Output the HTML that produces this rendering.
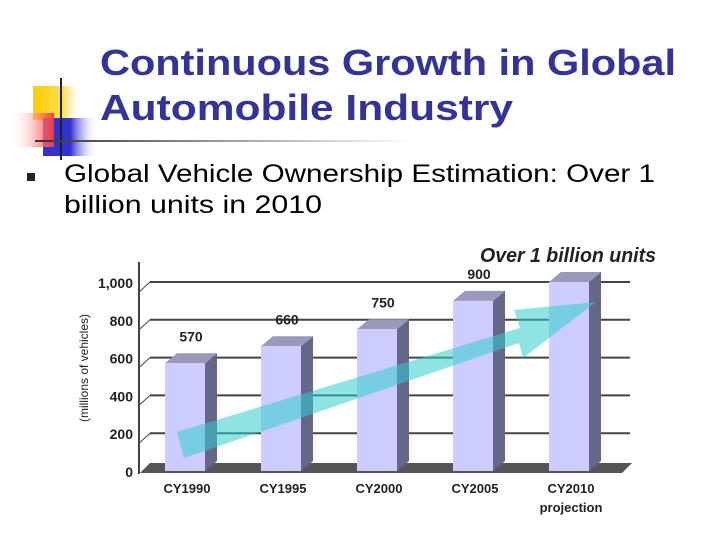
<!DOCTYPE html>
<html><head><meta charset="utf-8"><style>
html,body{margin:0;padding:0;background:#fff;}
svg{display:block;font-family:"Liberation Sans",sans-serif;}
</style></head><body>
<svg id="s" width="720" height="540" viewBox="0 0 720 540">
<defs>
<linearGradient id="gy" x1="0" x2="1"><stop offset="0" stop-color="#ffcc00"/><stop offset="0.6" stop-color="#ffdd55"/><stop offset="1" stop-color="#fff" stop-opacity="0"/></linearGradient>
<linearGradient id="gr" x1="1" x2="0"><stop offset="0" stop-color="#ff3333"/><stop offset="1" stop-color="#fff" stop-opacity="0"/></linearGradient>
<linearGradient id="gb" x1="0" x2="1"><stop offset="0" stop-color="#3333cc"/><stop offset="0.5" stop-color="#3333cc"/><stop offset="1" stop-color="#fff" stop-opacity="0"/></linearGradient>
<linearGradient id="gl" x1="0" x2="1"><stop offset="0" stop-color="#333"/><stop offset="0.4" stop-color="#888"/><stop offset="1" stop-color="#fff"/></linearGradient>
</defs>
<g>
<rect x="33" y="86" width="50" height="34" fill="url(#gy)"/>
<rect x="43" y="118" width="55" height="38" fill="url(#gb)"/>
<rect x="10" y="113" width="44" height="34" fill="url(#gr)"/>
<line x1="61" y1="78" x2="61" y2="160" stroke="#222" stroke-width="2"/>
<rect x="35" y="140" width="380" height="2" fill="url(#gl)"/>
</g>
<text x="100" y="75" font-size="36" font-weight="bold" fill="#333399" textLength="576" lengthAdjust="spacingAndGlyphs">Continuous Growth in Global</text>
<text x="100" y="120" font-size="36" font-weight="bold" fill="#333399" textLength="413" lengthAdjust="spacingAndGlyphs">Automobile Industry</text>
<rect x="27" y="173" width="8" height="8" fill="#222"/>
<text x="64" y="182" font-size="25" fill="#000" textLength="591" lengthAdjust="spacingAndGlyphs">Global Vehicle Ownership Estimation: Over 1</text>
<text x="64" y="213" font-size="25" fill="#000" textLength="258" lengthAdjust="spacingAndGlyphs">billion units in 2010</text>
<text x="656" y="262" font-size="20" font-weight="bold" font-style="italic" fill="#222" text-anchor="end" textLength="176" lengthAdjust="spacingAndGlyphs">Over 1 billion units</text>
<g id="chart"></g>
</svg>
<script>
const categories = ["CY1990","CY1995","CY2000","CY2005","CY2010"];
const values = [570, 660, 750, 900, 1000];
const valueLabels = ["570","660","750","900","1000"];
const yTicks = [0, 200, 400, 600, 800, 1000];
const yTickLabels = ["0","200","400","600","800","1,000"];
const NS="http://www.w3.org/2000/svg";
const g=document.getElementById('chart');
function y(v){return 471 - v*0.189;}
function x(i){return 165 + i*96;}
function mk(t,a,p){const e=document.createElementNS(NS,t);for(const k in a)e.setAttribute(k,a[k]);(p||g).appendChild(e);return e;}
// floor
const fl=mk('polygon',{points:"140,473 150,463 632,463 622,473",fill:"#555"});


// gridlines + ticks
yTicks.forEach((t,i)=>{
  if(t>0){const l=mk('line',{x1:150,y1:y(t),x2:630,y2:y(t),stroke:"#444","stroke-width":2});
  
  
  mk('line',{x1:139,y1:y(t)+10,x2:150,y2:y(t),stroke:"#444","stroke-width":1});}
  const tx=mk('text',{x:133,y:y(t)+6,"font-size":14,"font-weight":"bold",fill:"#222","text-anchor":"end"});
  tx.textContent=yTickLabels[i];
  
  
});
const ax=mk('line',{x1:139,y1:262,x2:139,y2:474,stroke:"#444","stroke-width":2});


const yt=mk('text',{x:0,y:0,"font-size":12,fill:"#222","text-anchor":"middle",transform:"translate(88,368) rotate(-90)"});
yt.textContent="(millions of vehicles)";


// bars
values.forEach((v,i)=>{
  const x0=x(i), w=40, d=12, top=y(v);
  const bg=mk('g',{});
  
  
  mk('polygon',{points:`${x0+w},${top} ${x0+w+d},${top-10} ${x0+w+d},${471-10} ${x0+w},471`,fill:"#666688"},bg);
  mk('polygon',{points:`${x0},${top} ${x0+d},${top-10} ${x0+w+d},${top-10} ${x0+w},${top}`,fill:"#9999bb"},bg);
  mk('rect',{x:x0,y:top,width:w,height:471-top,fill:"#ccccff"},bg);
  if(i<4){const vl=mk('text',{x:x0+26,y:top-22,"font-size":14,"font-weight":"bold",fill:"#222","text-anchor":"middle"});
  vl.textContent=valueLabels[i];
  
  }
  const cl=mk('text',{x:x0+22,y:493,"font-size":13,"font-weight":"bold",fill:"#222","text-anchor":"middle"});
  cl.textContent=categories[i];
  
  
});
const pj=mk('text',{x:x(4)+22,y:512,"font-size":13,"font-weight":"bold",fill:"#222","text-anchor":"middle"});
pj.textContent="projection";


// trend arrow
const ar=mk('polygon',{points:"177,432 520,328 514,310 596,302 523,358 519,343 184,458",fill:"#33cccc","fill-opacity":0.55});


</script>
</body></html>
